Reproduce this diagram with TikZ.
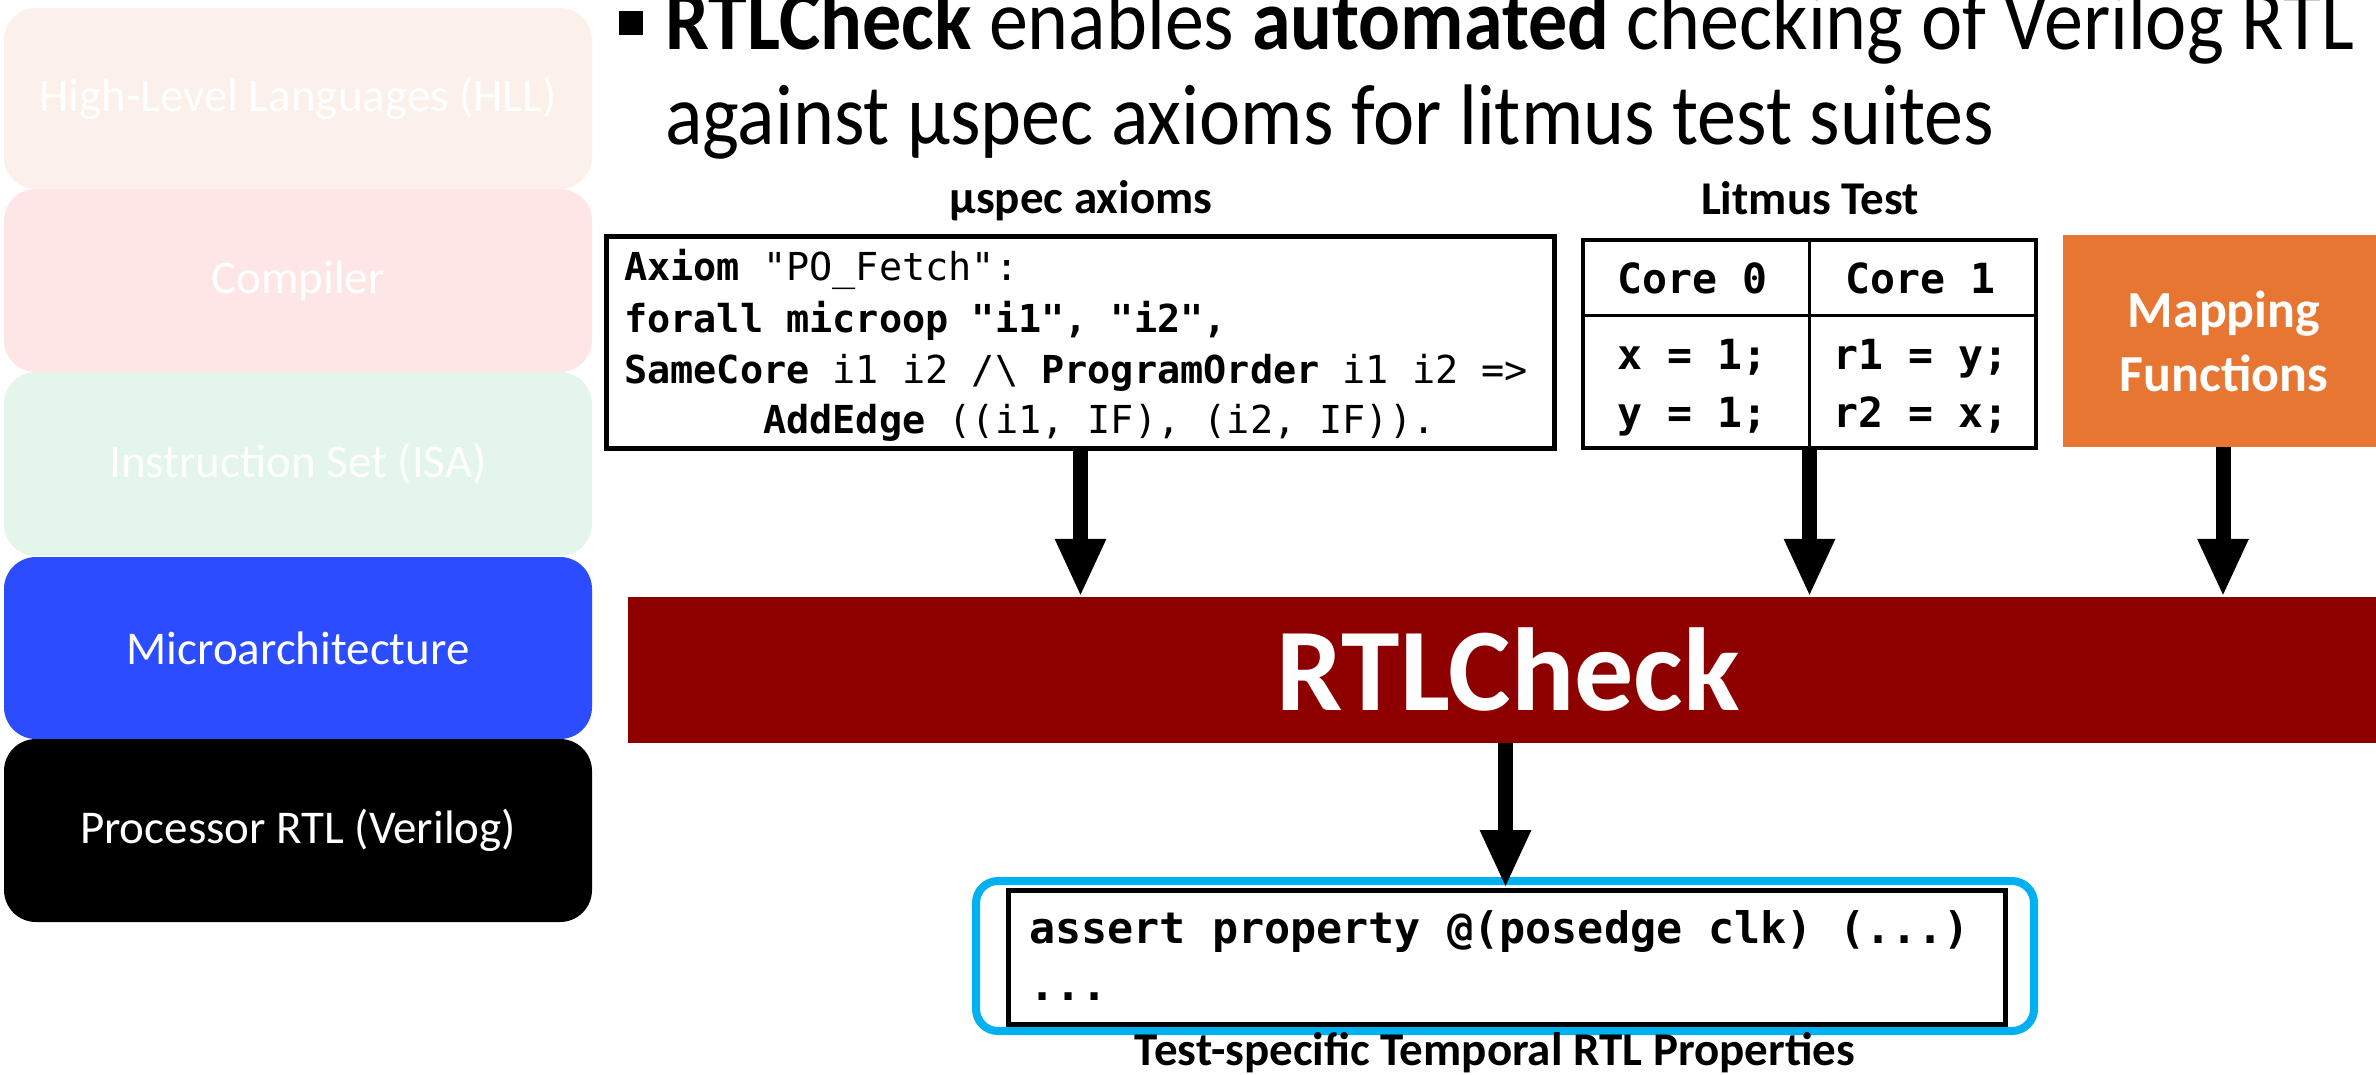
\documentclass[tikz,border=0pt]{standalone}
\usepackage{fontspec}
\setmainfont{Carlito}
\newfontfamily\titlefont[FakeStretch=0.907]{Carlito}
\newfontfamily\mono[Ligatures=TeXOff]{DejaVu Sans Mono}
\usetikzlibrary{arrows.meta}
\definecolor{hllc}{HTML}{FBF1EA}
\definecolor{compc}{HTML}{FEE5E6}
\definecolor{isac}{HTML}{E4F5EB}
\definecolor{uarchc}{HTML}{2C4CFF}
\definecolor{rtlred}{HTML}{8E0000}
\definecolor{mapc}{HTML}{E67632}
\definecolor{cyanc}{HTML}{00B0F0}
\tikzset{
  layer/.style={rectangle, rounded corners=32pt, minimum width=588pt, text=white,
    font=\fontsize{47}{56}\selectfont, inner sep=0pt},
  codeline/.style={anchor=base west, inner sep=0pt, font=\mono\fontsize{38.5}{46}\selectfont},
  tabline/.style={anchor=base west, inner sep=0pt, font=\mono\bfseries\fontsize{41.5}{50}\selectfont},
  asline/.style={anchor=base west, inner sep=0pt, font=\mono\bfseries\fontsize{43.4}{52}\selectfont},
  caption/.style={anchor=base, inner sep=0pt, font=\bfseries\fontsize{47}{56}\selectfont},
  maptext/.style={anchor=base, inner sep=0pt, text=white, font=\bfseries\fontsize{52}{62}\selectfont},
  titleline/.style={anchor=base west, inner sep=0pt, font=\titlefont\fontsize{86}{100}\selectfont},
  bigarrow/.style={line width=15pt, -{Triangle[length=58pt,width=47pt]}},
}
\begin{document}
\begin{tikzpicture}[x=1pt,y=-1pt]
\useasboundingbox (0,0) rectangle (2376,1074);
\clip (0,0) rectangle (2376,1074);

% layer stack
\node[layer, fill=hllc, minimum height=181pt] (hll) at (298,98.5) {High-Level Languages (HLL)};
\node[layer, fill=compc, minimum height=183pt] (comp) at (298,280.5) {Compiler};
\node[layer, fill=isac, minimum height=184pt] (isa) at (298,464) {Instruction Set (ISA)};
\node[layer, fill=uarchc, minimum height=182pt] (uarch) at (298,648) {Microarchitecture};
\node[layer, fill=black, minimum height=183pt] (proc) at (298,830.5) {Processor RTL (Verilog)};

% title
\fill (619,11) rectangle (643,35);
\node[titleline] (t1) at (665,49) {\textbf{RTLCheck} enables \textbf{automated} checking of Verilog RTL};
\node[titleline] (t2) at (665,144) {against µspec axioms for litmus test suites};

% uspec axioms
\node[caption] (uspeclbl) at (1081,213) {µspec axioms};
\node[draw, line width=5pt, minimum width=948pt, minimum height=212pt, inner sep=0pt] (uspec) at (1080.5,342.5) {};
\node[codeline] (c1) at (624,280) {\textbf{Axiom} "PO\_Fetch":};
\node[codeline] (c2) at (624,332) {\textbf{forall microop "i1", "i2",}};
\node[codeline] (c3) at (624,383) {\textbf{SameCore} i1 i2 /\textbackslash{} \textbf{ProgramOrder} i1 i2 =>};
\node[codeline] (c4) at (624,433) {\phantom{xxxxxx}\textbf{AddEdge} ((i1, IF), (i2, IF)).};

% litmus test
\node[caption] (litlbl) at (1810,214) {Litmus Test};
\node[draw, line width=4pt, minimum width=453pt, minimum height=208pt, inner sep=0pt] (litmus) at (1809.5,344) {};
\coordinate (hdl) at (1583,315);
\coordinate (hdr) at (2036,315);
\draw[line width=3pt] (hdl) -- (hdr);
\draw[line width=3pt] (litmus.north) -- (litmus.south);
\node[tabline] (core0) at (1617,293) {Core 0};
\node[tabline] (core1) at (1845,293) {Core 1};
\node[tabline] (x0) at (1617,369) {x = 1;};
\node[tabline] (y0) at (1617,427) {y = 1;};
\node[tabline] (r1) at (1833,369) {r1 = y;};
\node[tabline] (r2) at (1833,427) {r2 = x;};

% mapping functions
\node[fill=mapc, minimum width=320pt, minimum height=212pt, inner sep=0pt] (mapbox) at (2223,341) {};
\node[maptext] (map1) at (2224,327) {Mapping};
\node[maptext] (map2) at (2224,391) {Functions};

% RTLCheck bar
\node[fill=rtlred, minimum width=1755pt, minimum height=146pt, inner sep=0pt] (bar) at (1505.5,670) {};
\node[anchor=base, inner sep=0pt, text=white, font=\bfseries\fontsize{118}{134}\selectfont] (rtlc) at (1508,710) {RTLCheck};

% output box
\node[draw=cyanc, line width=8pt, rounded corners=22pt, minimum width=1058pt, minimum height=150pt, inner sep=0pt] (bluebox) at (1505,956) {};
\node[draw, line width=5pt, minimum width=997pt, minimum height=134pt, inner sep=0pt] (assertbox) at (1507,957.5) {};
\node[asline] (a1) at (1029,943) {assert property @(posedge clk) (...)};
\node[asline] (a2) at (1029,1000) {...};
\node[caption] (outlbl) at (1495,1065) {Test-specific Temporal RTL Properties};

% arrows
\draw[bigarrow] (uspec.south) -- (uspec.south |- bar.north);
\draw[bigarrow] (litmus.south) -- (litmus.south |- bar.north);
\draw[bigarrow] (mapbox.south) -- (mapbox.south |- bar.north);
\draw[bigarrow] (bar.south) -- (bar.south |- assertbox.north);
\end{tikzpicture}
\end{document}
